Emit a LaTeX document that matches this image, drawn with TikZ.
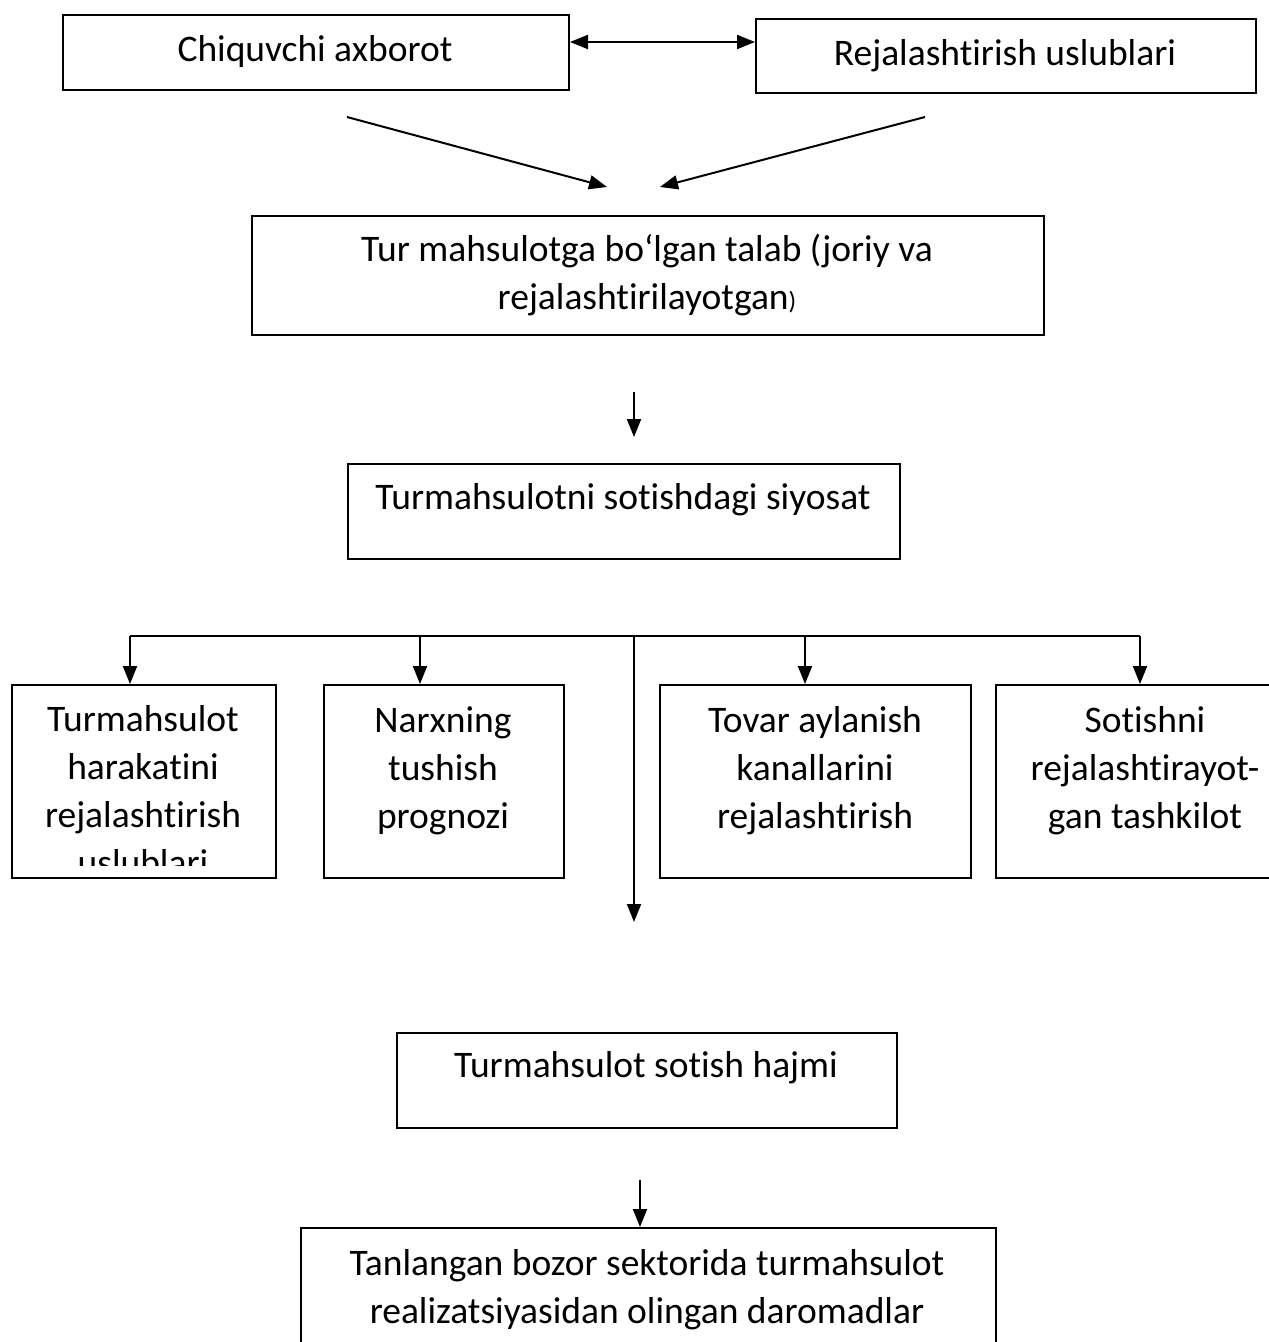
\documentclass[tikz,border=0pt]{standalone}
\usepackage{fontspec}
\setmainfont{Carlito}[Ligatures={NoCommon,NoContextual}]
\usetikzlibrary{arrows.meta}
\begin{document}
\begin{tikzpicture}[x=1pt,y=-1pt,
  box/.style={draw, line width=2pt, inner sep=0pt, anchor=north west},
  txt/.style={font=\fontsize{37.5}{48}\selectfont, align=center, inner sep=0pt, anchor=base},
  arr/.style={line width=2pt, -{Triangle[length=18pt,width=14pt]}},
  darr/.style={line width=2pt, {Triangle[length=18pt,width=14pt]}-{Triangle[length=18pt,width=14pt]}},
  ln/.style={line width=2pt}]
\useasboundingbox (0,0) rectangle (1269,1342);
\clip (0,0) rectangle (1269,1342);

% top row
\node[box, minimum width=506pt, minimum height=75pt] (b1) at (62,14) {};
\node[txt] (t1) at (315,61) {Chiquvchi axborot};
\node[box, minimum width=500pt, minimum height=74pt] (b2) at (755,18) {};
\node[txt] (t2) at (1005,65) {Rejalashtirish uslublari};
\coordinate (dy) at (0,42);
\draw[darr] (b1.east |- dy) -- (b2.west |- dy);

% converging arrows
\coordinate (d1s) at (347,117); \coordinate (d1e) at (607,187);
\coordinate (d2s) at (925,117); \coordinate (d2e) at (660,187);
\draw[arr] (d1s) -- (d1e);
\draw[arr] (d2s) -- (d2e);

% demand box
\node[box, minimum width=792pt, minimum height=119pt] (b3) at (251,215) {};
\node[txt] (t3) at (647,309) {Tur mahsulotga bo‘lgan talab (joriy va\\rejalashtirilayotgan{\fontsize{25}{25}\selectfont)}};

\coordinate (a3s) at (634,392); \coordinate (a3e) at (634,437);
\draw[arr] (a3s) -- (a3e);

% policy box
\node[box, minimum width=552pt, minimum height=95pt] (b4) at (347,463) {};
\node[txt] (t4) at (623,509) {Turmahsulotni sotishdagi siyosat};

% branch
\coordinate (k1) at (130,636);
\coordinate (k2) at (420,636);
\coordinate (br) at (634,636);
\coordinate (k3) at (805,636);
\coordinate (k4) at (1140,636);
\coordinate (ce) at (634,922);
\draw[ln] (k1) -- (k4);

% row of boxes
\node[box, minimum width=264pt, minimum height=193pt] (r1) at (11,684) {};
\node[box, minimum width=240pt, minimum height=193pt] (r2) at (323,684) {};
\node[box, minimum width=311pt, minimum height=193pt] (r3) at (659,684) {};
\node[box, minimum width=300pt, minimum height=193pt] (r4) at (995,684) {};
\begin{scope}
\clip (11,684) rectangle (275,865);
\node[txt] (rt1) at (143,875) {Turmahsulot\\harakatini\\rejalashtirish\\uslublari};
\end{scope}
\node[txt] (rt2) at (443,828) {Narxning\\tushish\\prognozi};
\node[txt] (rt3) at (815,828) {Tovar aylanish\\kanallarini\\rejalashtirish};
\node[txt] (rt4) at (1145,828) {Sotishni\\rejalashtirayot-\\gan tashkilot};

\draw[arr] (k1) -- (k1 |- r1.north);
\draw[arr] (k2) -- (k2 |- r2.north);
\draw[arr] (k3) -- (k3 |- r3.north);
\draw[arr] (k4) -- (k4 |- r4.north);
\draw[arr] (br) -- (ce);

% volume box
\node[box, minimum width=500pt, minimum height=95pt] (b5) at (396,1032) {};
\node[txt] (t5) at (646,1077) {Turmahsulot sotish hajmi};

% income box
\node[box, minimum width=695pt, minimum height=160pt] (b6) at (300,1227) {};
\node[txt] (t6) at (647,1323) {Tanlangan bozor sektorida turmahsulot\\realizatsiyasidan olingan daromadlar};
\coordinate (a6) at (640,1180);
\draw[arr] (a6) -- (a6 |- b6.north);
\end{tikzpicture}
\end{document}
